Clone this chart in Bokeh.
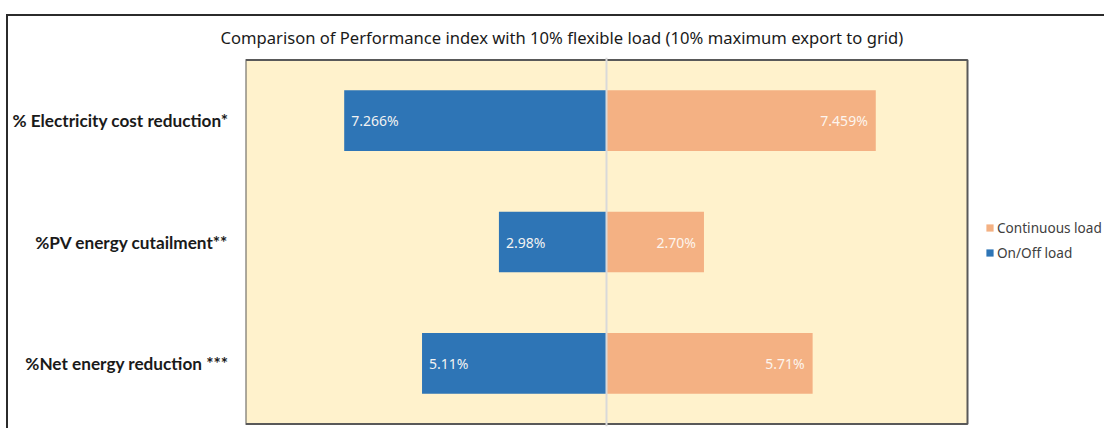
import numpy as np
from bokeh.plotting import figure
from bokeh.models import (ColumnDataSource, Legend, LegendItem, Span, Range1d, Title,
                          BoxAnnotation, FixedTicker)
from bokeh.embed import file_html
from bokeh.resources import INLINE
from bokeh.core.properties import value

categories = ["% Electricity cost reduction*", "%PV energy cutailment**", "%Net energy reduction ***"]
onoff_vals = [7.266, 2.98, 5.11]
cont_vals = [7.459, 2.70, 5.71]
onoff_text = ["7.266%", "2.98%", "5.11%"]
cont_text = ["7.459%", "2.70%", "5.71%"]
series_names = ["Continuous load", "On/Off load"]

BLUE = "#2E75B6"
ORANGE = "#F4B183"

n = len(categories)
ypos = [n - 1 - i for i in range(n)]

src_on = ColumnDataSource(dict(y=ypos, left=-np.array(onoff_vals), right=np.zeros(n), txt=onoff_text))
src_co = ColumnDataSource(dict(y=ypos, left=np.zeros(n), right=np.array(cont_vals), txt=cont_text))

W, H = 1098, 414
ML, MR, MT, MB = 237, 0, 39, 4
frame_w = W - ML - MR
axis_lo, axis_hi = -10, 10
plot_px = 722  # width of plotted value axis area in px
x_end = axis_lo + frame_w * (axis_hi - axis_lo) / plot_px

p = figure(width=W, height=H, output_backend="svg", toolbar_location=None,
           x_range=Range1d(axis_lo, x_end), y_range=Range1d(-0.52, n - 0.48),
           min_border_left=ML, min_border_right=MR, min_border_top=MT, min_border_bottom=MB,
           background_fill_color="white", border_fill_color="white")
p.styles = {"margin-top": "14px", "margin-left": "6px",
            "border-top": "2px solid #2b2b2b", "border-left": "2px solid #2b2b2b"}

p.outline_line_color = None
p.xgrid.visible = False
p.ygrid.visible = False
p.xaxis.visible = False

ya = p.yaxis[0]
ya.ticker = FixedTicker(ticks=ypos)
ya.major_label_overrides = {y: c for y, c in zip(ypos, categories)}
ya.axis_line_color = None
ya.major_tick_line_color = None
ya.minor_tick_line_color = None
ya.major_tick_out = 0
ya.major_tick_in = 0
ya.minor_tick_out = 0
ya.major_label_standoff = 17
ya.major_label_text_font = "Lato"
ya.major_label_text_font_style = "bold"
ya.major_label_text_font_size = "17.2px"
ya.major_label_text_color = "#1a1a1a"

p.add_layout(BoxAnnotation(left=axis_lo, right=axis_hi, bottom=-0.5, top=n - 0.5,
                           fill_color="#FFF2CC", fill_alpha=1, line_color="#595959", line_alpha=1,
                           line_width=2, level="underlay"))

r_on = p.hbar(y="y", left="left", right="right", height=0.5, source=src_on, color=BLUE, line_color=None)
r_co = p.hbar(y="y", left="left", right="right", height=0.5, source=src_co, color=ORANGE, line_color=None)

p.add_layout(Span(location=0, dimension="height", line_color="#D9D9D9", line_width=2))

p.text(x="left", y="y", text="txt", source=src_on, x_offset=7, text_align="left", text_baseline="middle",
       text_color="#F2F2F2", text_font=value("Noto Sans"), text_font_size="14px")
p.text(x="right", y="y", text="txt", source=src_co, x_offset=-8, text_align="right", text_baseline="middle",
       text_color="#FDF5EE", text_font=value("Noto Sans"), text_font_size="14px")

t = Title(text="Comparison of Performance index with 10% flexible load (10% maximum export to grid)",
          align="left", offset=-25, text_font="Noto Sans", text_font_size="16.6px",
          text_font_style="normal", text_color="#1a1a1a", standoff=16, vertical_align="middle")
p.add_layout(t, "above")

legend = Legend(items=[LegendItem(label=series_names[0], renderers=[r_co]),
                       LegendItem(label=series_names[1], renderers=[r_on])],
                location=(740, 164), border_line_color=None, background_fill_alpha=0,
                label_text_font="Noto Sans", label_text_font_size="13.6px", label_text_color="#404040",
                glyph_width=9, glyph_height=9, spacing=6, label_standoff=3, margin=0, padding=10)
p.add_layout(legend, "center")

open("out.html", "w").write(file_html(p, INLINE))
